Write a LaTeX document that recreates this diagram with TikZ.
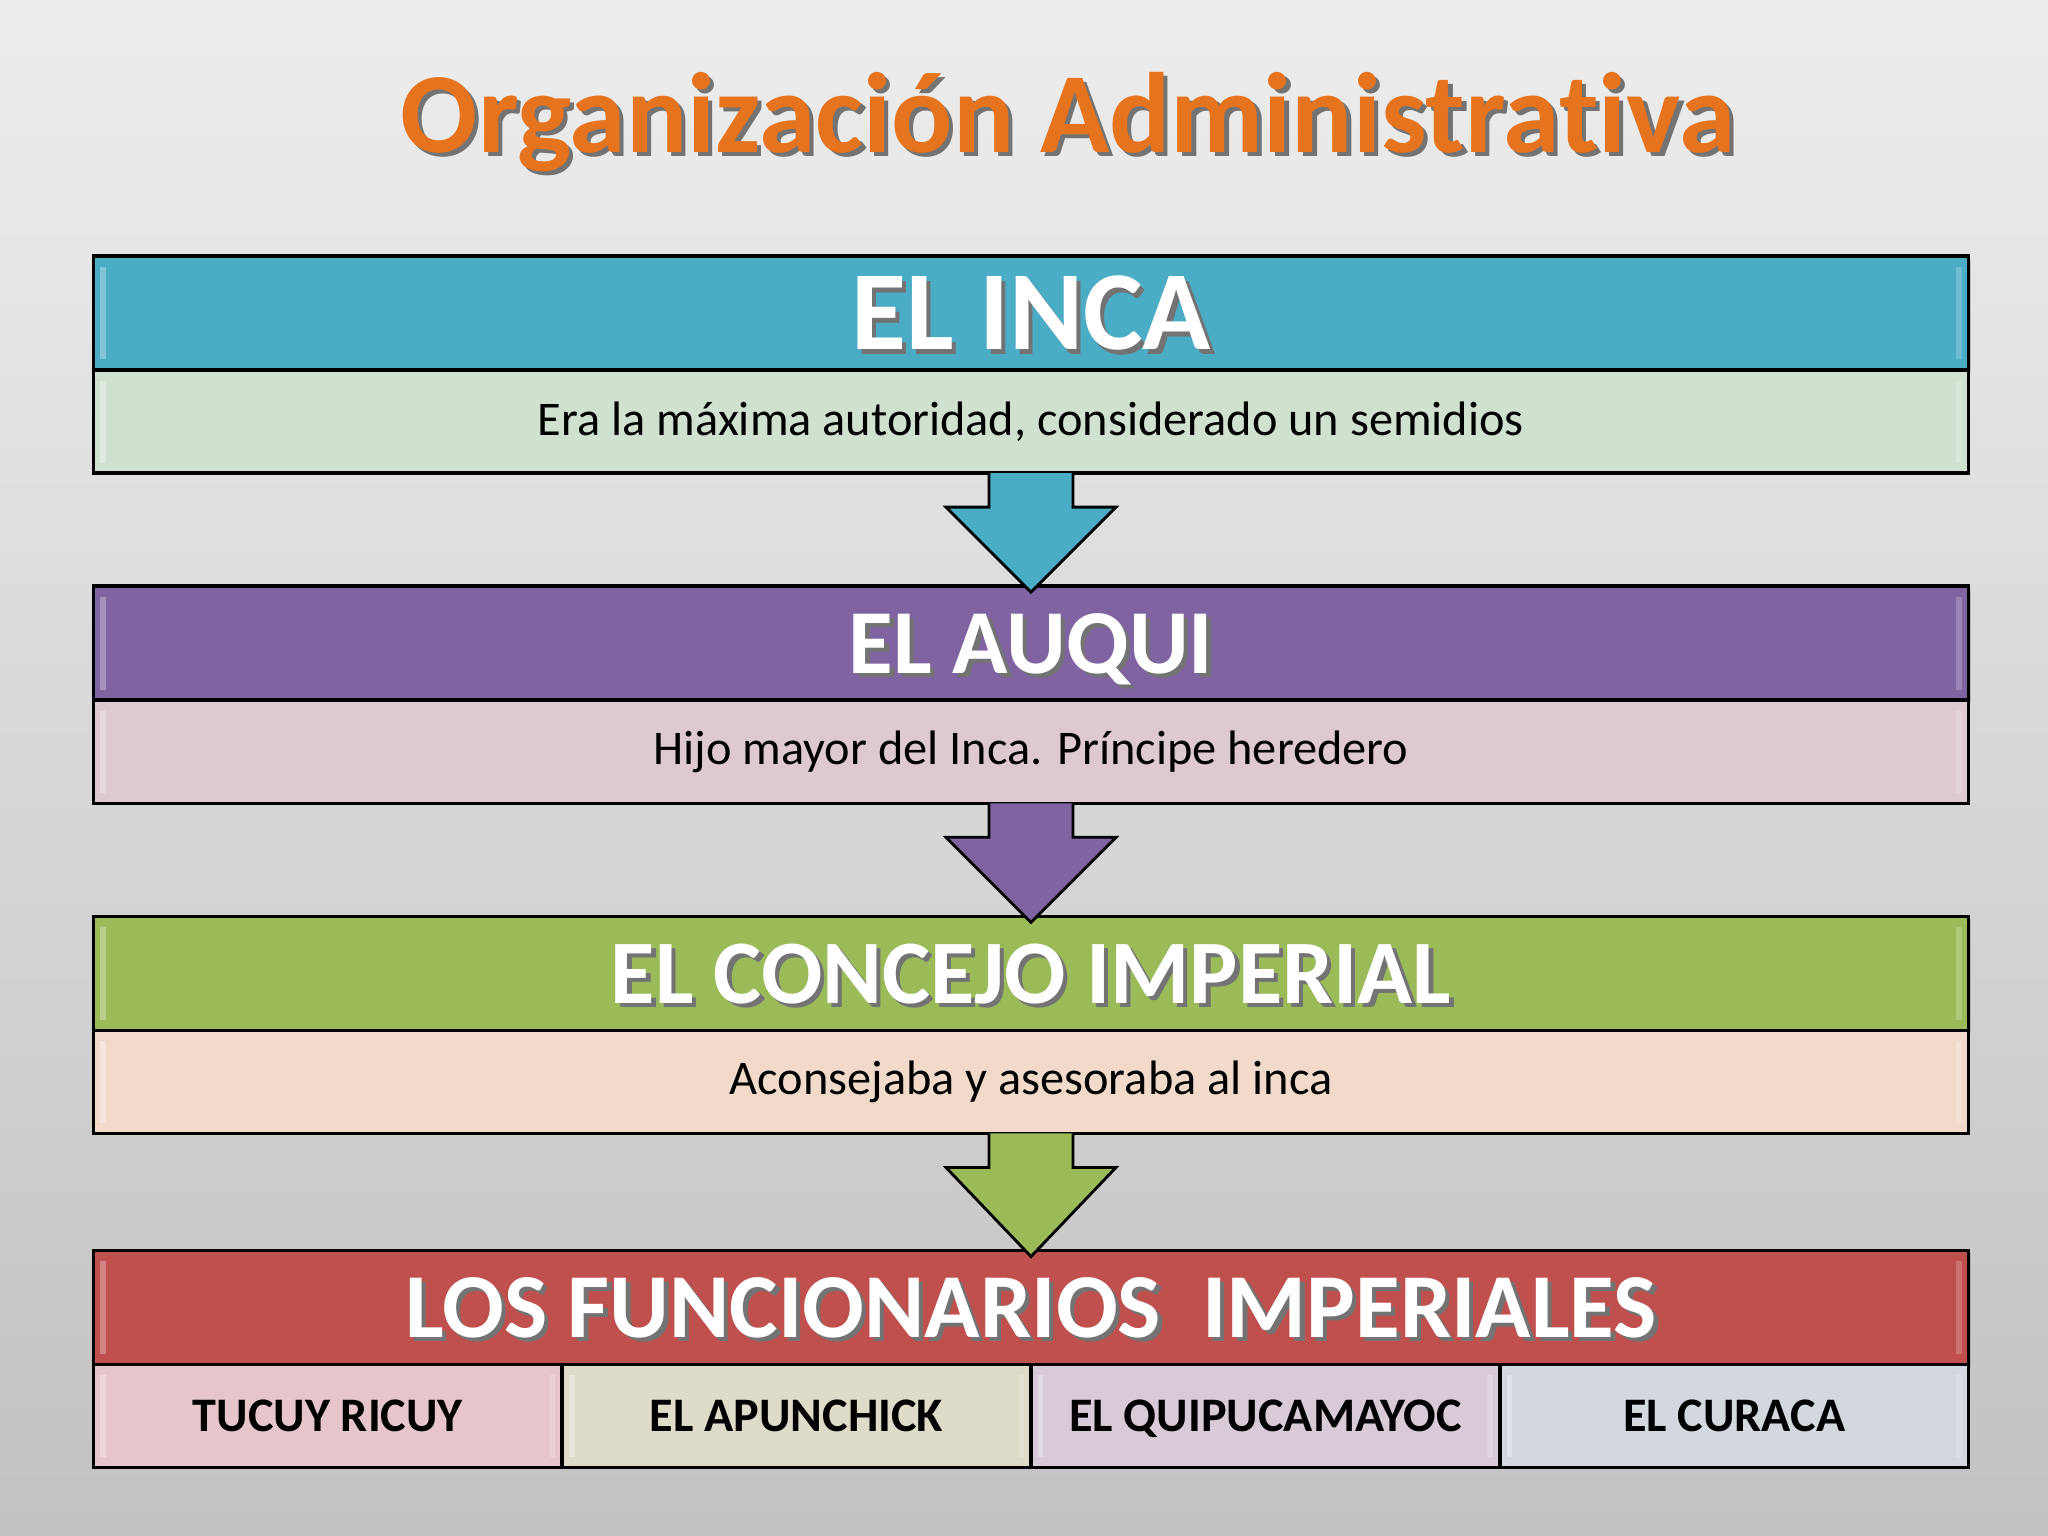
\documentclass[tikz,border=0pt]{standalone}
\usepackage{fontspec}
\setmainfont{Carlito}[Ligatures={NoCommon}]
\usetikzlibrary{calc, positioning, shadows}

\definecolor{incablue}{HTML}{4BACC6}
\definecolor{incadesc}{HTML}{D0E1CF}
\definecolor{auquipurple}{HTML}{8064A2}
\definecolor{auquidesc}{HTML}{DEC8D2}
\definecolor{concejogreen}{HTML}{9BBB59}
\definecolor{concejodesc}{HTML}{F1DACA}
\definecolor{funcred}{HTML}{C0504D}
\definecolor{cellpink}{HTML}{E6C6CB}
\definecolor{cellbeige}{HTML}{DEDCC9}
\definecolor{celllilac}{HTML}{D9CAD8}
\definecolor{cellgray}{HTML}{D3D7DE}
\definecolor{titleorange}{HTML}{E6741E}

% white caps with a soft shadow
\newcommand{\shadowed}[1]{\rlap{\kern1.2pt\raisebox{-1.2pt}{\textcolor{black!55}{#1}}}#1}

\tikzset{
  gloss/.style={path picture={
      \fill[white, opacity=0.3] ([xshift=2pt,yshift=-3pt]path picture bounding box.north west)
        rectangle ([xshift=3.5pt,yshift=3pt]path picture bounding box.south west);
      \fill[white, opacity=0.2] ([xshift=-2pt,yshift=-3pt]path picture bounding box.north east)
        rectangle ([xshift=-3.5pt,yshift=3pt]path picture bounding box.south east);}},
  headbox/.style={draw=black, line width=1pt, fill=#1, outer sep=0pt, inner sep=0pt,
    minimum width=18.74cm, minimum height=1.14cm, text=white, gloss, text depth=0pt,
    drop shadow={opacity=0.35, shadow xshift=0.6pt, shadow yshift=-0.8pt}},
  descbox/.style={draw=black, line width=1pt, fill=#1, outer sep=0pt, inner sep=0pt,
    minimum width=18.74cm, minimum height=1.03cm, gloss,
    font=\fontsize{13.75}{17}\selectfont},
  cellbox/.style={draw=black, line width=1pt, fill=#1, outer sep=0pt, inner sep=0pt,
    minimum width=4.685cm, minimum height=1.03cm, gloss, text depth=0pt,
    font=\bfseries\fontsize{13.7}{17}\selectfont},
  downarrow/.style={draw=black, line width=0.8pt, fill=#1, line join=miter},
}

\begin{document}
\begin{tikzpicture}[x=0.01cm, y=-0.01cm, node distance=1.13cm]
  \useasboundingbox (0,0) rectangle (2048,1536);
  \shade[top color=black!7, bottom color=black!24] (0,0) rectangle (2048,1536);

  % title
  \node (title) [anchor=base, text=titleorange, font=\bfseries\fontsize{32.5}{40}\selectfont]
    at (1068,152) {\shadowed{Organización Administrativa}};

  % the four levels
  \node (inca) [headbox=incablue, font=\bfseries\fontsize{32}{36}\selectfont] at (1031,313) {\shadowed{EL INCA}};
  \node (incad) [descbox=incadesc, below=0pt of inca] {Era la máxima autoridad, considerado un semidios};

  \node (auqui) [headbox=auquipurple, font=\bfseries\fontsize{26}{30}\selectfont, below=of incad] {\shadowed{EL AUQUI}};
  \node (auquid) [descbox=auquidesc, below=0pt of auqui] {Hijo mayor del Inca. Príncipe heredero};

  \node (concejo) [headbox=concejogreen, font=\bfseries\fontsize{25.8}{30}\selectfont, below=of auquid] {\shadowed{EL CONCEJO IMPERIAL}};
  \node (concejod) [descbox=concejodesc, below=0pt of concejo] {Aconsejaba y asesoraba al inca};

  \node (func) [headbox=funcred, font=\bfseries\fontsize{26}{30}\selectfont, below=1.17cm of concejod]
    {\shadowed{LOS FUNCIONARIOS~~IMPERIALES}};
  \node (tucuy) [cellbox=cellpink, below right=0pt and 0pt of func.south west] {TUCUY RICUY};
  \node (apun) [cellbox=cellbeige, right=0pt of tucuy] {EL APUNCHICK};
  \node (quipu) [cellbox=celllilac, right=0pt of apun] {EL QUIPUCAMAYOC};
  \node (curaca) [cellbox=cellgray, right=0pt of quipu] {EL CURACA};

  % block arrows
  \foreach \a/\b/\c in {incad/auqui/incablue, auquid/concejo/auquipurple, concejod/func/concejogreen}
    \draw[downarrow=\c] ($(\a.south)+(-42,0)$) -- ++(0,34) -- ++(-43,0)
      -- ($(\b.north)+(0,6)$) -- ($(\a.south)+(85,34)$) -- ++(-43,0)
      -- ($(\a.south)+(42,0)$);
\end{tikzpicture}
\end{document}
